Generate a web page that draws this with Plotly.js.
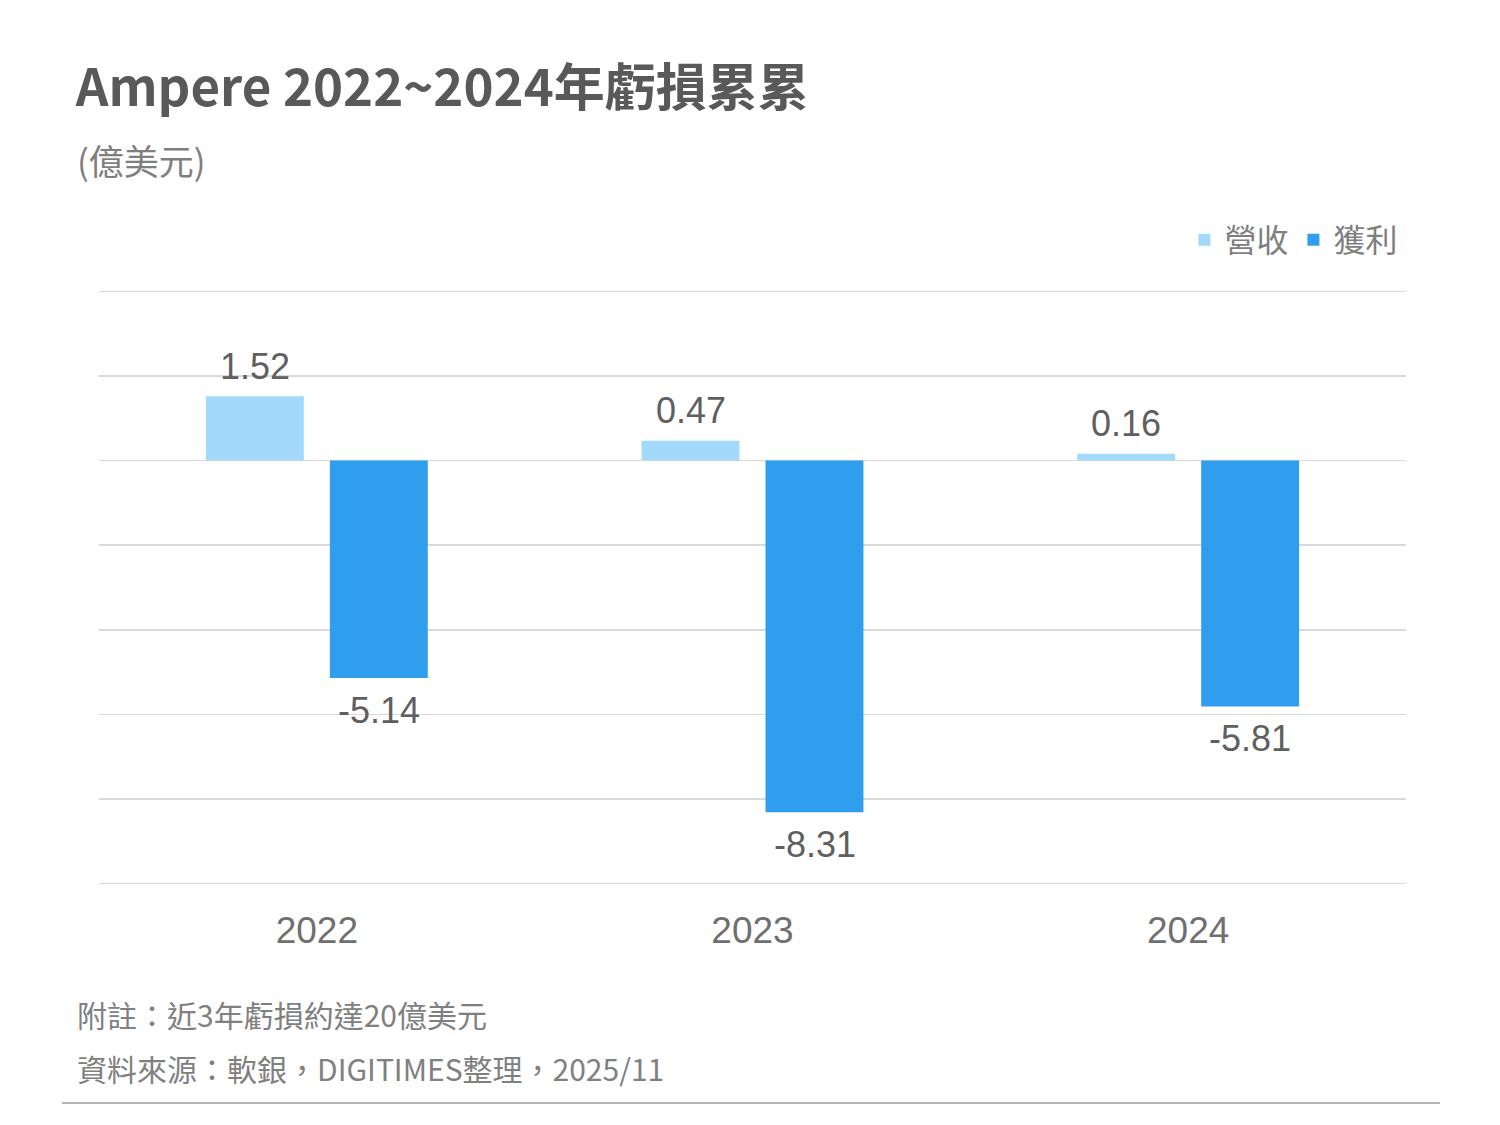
<!DOCTYPE html>
<html>
<head>
<meta charset="utf-8">
<script src="https://cdn.plot.ly/plotly-3.0.1.min.js"></script>
<style>html,body{margin:0;padding:0;background:#fff;}#chart{width:1500px;height:1125px;}</style>
</head>
<body>
<div id="chart"></div>
<script>
const years = ['2022', '2023', '2024'];
const revenue = [1.52, 0.47, 0.16];
const profit = [-5.14, -8.31, -5.81];
const seriesNames = ['營收', '獲利'];
const titleText = 'Ampere 2022~2024年虧損累累';
const unitText = '(億美元)';
const noteText = '附註：近3年虧損約達20億美元';
const sourceText = '資料來源：軟銀，DIGITIMES整理，2025/11';

const lightBlue = '#a3dafb';
const darkBlue = '#309eee';
const labelFont = {family: 'Liberation Sans, Arial, sans-serif', size: 36, color: '#5f5f5f'};

const traces = [
  {type: 'bar', name: seriesNames[0], x: years, y: revenue, marker: {color: lightBlue}, hoverinfo: 'skip'},
  {type: 'bar', name: seriesNames[1], x: years, y: profit, marker: {color: darkBlue}, hoverinfo: 'skip'}
];

const annotations = [];
[revenue, profit].forEach((arr, si) => {
  arr.forEach((v, i) => {
    annotations.push({
      x: i, y: v, xref: 'x', yref: 'y',
      text: v.toFixed(2), showarrow: false,
      xshift: si === 0 ? -62 : 62,
      yshift: v >= 0 ? 30 : -32,
      yanchor: 'middle', xanchor: 'center',
      font: labelFont
    });
  });
});

const cjk = 'Noto Sans CJK TC, sans-serif';
annotations.push(
  {xref: 'paper', yref: 'paper', x: -0.0185, y: 1.2185, xanchor: 'left', yanchor: 'middle', showarrow: false,
   text: unitText, font: {family: cjk, size: 35, color: '#7f7f7f'}},
  {xref: 'paper', yref: 'paper', x: -0.0185, y: -0.2168, xanchor: 'left', yanchor: 'middle', showarrow: false,
   text: noteText, font: {family: cjk, size: 30, color: '#808080'}},
  {xref: 'paper', yref: 'paper', x: -0.0185, y: -0.3076, xanchor: 'left', yanchor: 'middle', showarrow: false,
   text: sourceText, font: {family: cjk, size: 30, color: '#808080'}}
);

const layout = {
  width: 1500, height: 1125,
  paper_bgcolor: '#ffffff', plot_bgcolor: '#ffffff',
  margin: {l: 99, r: 94, t: 290, b: 240},
  title: {
    text: '<b>' + titleText + '</b>',
    xref: 'container', yref: 'container', x: 0.0505, y: 1 - 88/1125,
    xanchor: 'left', yanchor: 'middle',
    font: {family: cjk, size: 51, color: '#595959'}
  },
  barmode: 'group', bargap: 0.431, bargroupgap: 0.21,
  showlegend: true,
  legend: {
    orientation: 'h', xref: 'paper', yref: 'paper', x: 0.998, y: 1.084,
    xanchor: 'right', yanchor: 'middle',
    font: {family: cjk, size: 32, color: '#7f7f7f'},
    itemclick: false, itemdoubleclick: false, traceorder: 'normal'
  },
  xaxis: {
    type: 'category', range: [-0.5, 2.5], autorange: false,
    showgrid: false, showline: false, ticks: '',
    tickfont: {family: 'Liberation Sans, Arial, sans-serif', size: 37, color: '#6f6f6f'},
    ticklabelstandoff: 20, fixedrange: true
  },
  yaxis: {
    range: [-10.03, 4.03], autorange: false, dtick: 2, tick0: 0, showticklabels: false, ticks: '',
    showgrid: true, gridcolor: '#d9d9d9', gridwidth: 1.5,
    zeroline: true, zerolinecolor: '#d9d9d9', zerolinewidth: 1.5,
    showline: false, fixedrange: true
  },
  shapes: [
    {type: 'line', xref: 'paper', yref: 'paper', x0: -0.0283, x1: 1.026, y0: -0.3664, y1: -0.3664,
     line: {color: '#9a9a9a', width: 1.5}}
  ],
  annotations: annotations
};

Plotly.newPlot('chart', traces, layout, {displayModeBar: false, staticPlot: true});
</script>
</body>
</html>
